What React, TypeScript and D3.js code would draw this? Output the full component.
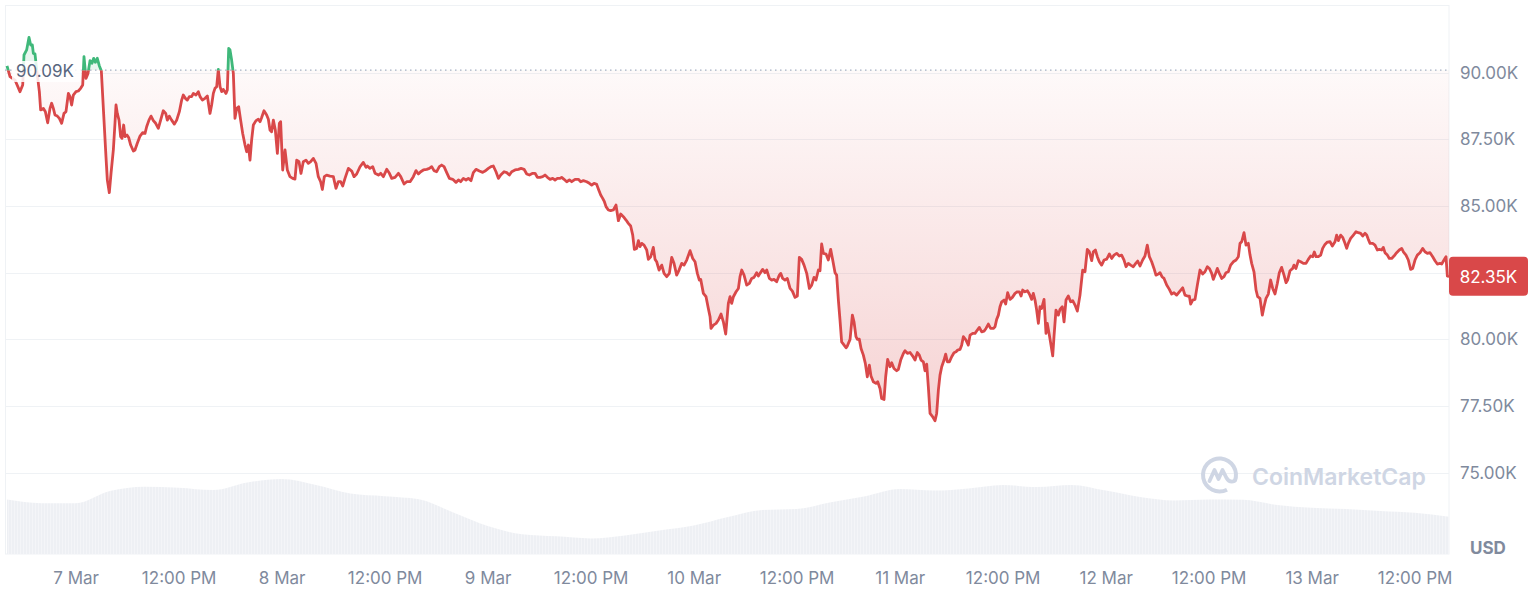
import React, { useEffect, useRef } from 'react';
import * as d3 from 'd3';

// 7 day BTC/USD chart, 6 Mar 16:00 UTC -> 13 Mar 16:00 UTC
const startTime = Date.UTC(2025, 2, 6, 16, 0);
const spanHours = 168;
const openPrice = 90090;
const lastPrice = 82350;
const priceTicks = [75000, 77500, 80000, 82500, 85000, 87500, 90000];

// 24h volume (billions USD), one value every 4 hours from the start
const volumeStepHours = 4;
const volumes = [
  38.9, 36.3, 36.3, 45.0, 48.1, 47.4, 45.7, 51.1, 53.6, 49.3, 43.2, 41.3, 39.1, 29.6,
  20.0, 14.1, 12.6, 11.1, 13.2, 16.7, 20.3, 26.4, 31.4, 32.1, 36.9, 41.3, 46.4, 45.3,
  46.8, 49.3, 47.8, 49.3, 45.3, 40.7, 38.2, 38.9, 38.7, 35.0, 33.0, 32.1, 30.7, 29.4, 26.6,
];

// [hours since start, price]
const pricePoints: [number, number][] = [
  [0, 90250], [0.35, 89850], [0.93, 89720], [1.51, 89285], [1.83, 89535], [1.98, 90660], [2.29, 90850],
  [2.56, 91320], [2.76, 91035], [2.95, 91035], [3.07, 90720], [3.26, 90700], [3.46, 90100], [3.77, 89285],
  [3.92, 88600], [4.23, 88660], [4.47, 88535], [4.74, 88120], [5.01, 88660], [5.2, 88850], [5.4, 88660],
  [5.59, 88410], [5.86, 88370], [6.1, 88285], [6.37, 88100], [6.64, 88470], [6.87, 88535], [7.15, 89220],
  [7.34, 89100], [7.53, 88785], [7.73, 89160], [8.04, 89285], [8.31, 89310], [8.58, 89410], [8.82, 89535],
  [8.97, 90600], [9.2, 89785], [9.44, 89970], [9.67, 90450], [9.9, 90350], [10.1, 90535], [10.29, 90385],
  [10.52, 90535], [10.76, 90250], [10.99, 90070], [11.3, 88220], [11.53, 86850], [11.69, 85970], [11.92, 85500],
  [12.12, 86220], [12.39, 87100], [12.58, 88100], [12.7, 88785], [12.85, 88470], [13.05, 88220], [13.24, 87600],
  [13.4, 87535], [13.59, 88035], [13.75, 87600], [13.98, 87660], [14.17, 87570], [14.41, 87285], [14.72, 87060],
  [14.91, 87100], [15.18, 87350], [15.5, 87620], [15.81, 87750], [16.08, 87720], [16.27, 87970], [16.54, 88220],
  [16.78, 88370], [17.05, 88200], [17.32, 88100], [17.63, 87910], [17.9, 88220], [18.21, 88570], [18.49, 88470],
  [18.68, 88220], [18.91, 88370], [19.18, 88220], [19.5, 88070], [19.77, 88220], [20.08, 88535], [20.35, 88970],
  [20.54, 89160], [20.78, 89035], [21.01, 88970], [21.24, 89100], [21.51, 89100], [21.71, 89220], [22.02, 89160],
  [22.29, 89285], [22.49, 89100], [22.76, 88970], [23.07, 89035], [23.34, 89120], [23.65, 88470], [23.84, 88785],
  [24.04, 89220], [24.23, 89410], [24.43, 89470], [24.62, 90120], [24.82, 89470], [25.01, 89285], [25.2, 89370],
  [25.51, 89220], [25.67, 89350], [25.83, 90910], [25.98, 90850], [26.17, 90470], [26.37, 89970], [26.56, 88285],
  [26.76, 88660], [26.99, 88720], [27.22, 88220], [27.46, 87720], [27.73, 87285], [27.92, 87035], [28.12, 87285],
  [28.31, 86720], [28.5, 87470], [28.7, 88035], [29.01, 88200], [29.28, 88250], [29.48, 88160], [29.67, 88320],
  [29.94, 88570], [30.25, 88410], [30.45, 88250], [30.64, 87850], [30.83, 87785], [31.03, 88220], [31.26, 87850],
  [31.5, 86970], [31.73, 88100], [31.88, 88160], [32.12, 86350], [32.39, 87100], [32.66, 86350], [32.97, 86100],
  [33.28, 86035], [33.55, 86010], [33.75, 86720], [34.02, 86660], [34.25, 86220], [34.52, 86660], [34.83, 86720],
  [35.11, 86600], [35.38, 86660], [35.69, 86785], [36, 86600], [36.27, 86100], [36.54, 85910], [36.74, 85620],
  [36.97, 86100], [37.24, 86160], [37.63, 86120], [38.02, 86100], [38.33, 85660], [38.6, 85910], [38.87, 85910],
  [39.11, 85750], [39.38, 86035], [39.77, 86410], [40.16, 86310], [40.43, 86100], [40.74, 86200], [41.13, 86470],
  [41.51, 86635], [41.83, 86450], [41.98, 86500], [42.29, 86410], [42.61, 86475], [42.88, 86225], [43.27, 86160],
  [43.54, 86225], [43.85, 86100], [44.24, 86375], [44.55, 86225], [44.82, 86035], [45.21, 86075], [45.6, 86225],
  [45.87, 86100], [46.26, 85825], [46.57, 85910], [46.96, 85910], [47.34, 86100], [47.65, 86325], [47.93, 86200],
  [48.2, 86285], [48.51, 86350], [48.9, 86375], [49.21, 86410], [49.48, 86475], [49.75, 86325], [50.06, 86285],
  [50.37, 86475], [50.64, 86535], [50.92, 86475], [51.23, 86250], [51.54, 86035], [51.93, 86000], [52.31, 85885],
  [52.59, 85975], [52.86, 85910], [53.17, 86035], [53.48, 85975], [53.75, 86035], [54.06, 85950], [54.33, 86250],
  [54.64, 86375], [55.03, 86310], [55.42, 86260], [55.69, 86310], [56.08, 86410], [56.39, 86475], [56.66, 86500],
  [56.97, 86285], [57.25, 86035], [57.52, 86160], [57.91, 86285], [58.22, 86250], [58.53, 86160], [58.8, 86285],
  [59.19, 86350], [59.58, 86375], [59.89, 86410], [60.24, 86375], [60.55, 86200], [60.86, 86160], [61.25, 86225],
  [61.52, 86225], [61.79, 86075], [62.1, 86075], [62.41, 86100], [62.68, 86160], [62.96, 86075], [63.27, 86000],
  [63.58, 86035], [63.85, 85975], [64.12, 86035], [64.43, 86035], [64.62, 86075], [64.9, 86000], [65.21, 85910],
  [65.52, 85975], [65.79, 85910], [66.18, 86000], [66.57, 86000], [66.84, 85910], [67.15, 85950], [67.54, 85910],
  [67.85, 85850], [68.12, 85785], [68.39, 85850], [68.7, 85810], [68.94, 85600], [69.17, 85410], [69.4, 85285],
  [69.6, 85160], [69.79, 84975], [70.06, 84850], [70.33, 84825], [70.64, 84850], [70.95, 85035], [71.23, 84450],
  [71.5, 84700], [71.81, 84600], [72.12, 84475], [72.39, 84350], [72.66, 84250], [72.9, 83910], [73.09, 83375],
  [73.36, 83410], [73.56, 83700], [73.75, 83475], [73.95, 83600], [74.22, 83535], [74.53, 83350], [74.72, 83000],
  [75, 83100], [75.3, 83450], [75.5, 83000], [75.69, 82910], [75.97, 82600], [76.28, 82785], [76.55, 82475],
  [76.86, 82350], [77.17, 82475], [77.44, 83075], [77.71, 82850], [78.02, 82410], [78.3, 82600], [78.61, 82850],
  [78.88, 82785], [79.19, 82975], [79.58, 83325], [79.89, 83035], [80.16, 82910], [80.43, 82475], [80.66, 82225],
  [80.82, 82250], [81.13, 81725], [81.44, 81600], [81.71, 81160], [81.91, 80850], [82.02, 80410], [82.3, 80535],
  [82.61, 80600], [82.88, 80725], [83.19, 80950], [83.46, 80660], [83.73, 80200], [83.85, 80625], [84.04, 81350],
  [84.24, 81600], [84.43, 81350], [84.63, 81600], [84.94, 81785], [85.21, 81910], [85.4, 82350], [85.6, 82600],
  [85.87, 82410], [86.18, 82035], [86.49, 82100], [86.76, 82285], [87.03, 82325], [87.34, 82500], [87.54, 82375],
  [87.73, 82475], [88.04, 82625], [88.31, 82500], [88.51, 82600], [88.82, 82285], [89.09, 82225], [89.36, 82250],
  [89.67, 82160], [89.98, 82410], [90.14, 82475], [90.37, 82285], [90.64, 82225], [90.91, 82285], [91.23, 81910],
  [91.5, 81810], [91.81, 81575], [92.08, 81625], [92.31, 83075], [92.58, 83000], [92.86, 82785], [93.17, 82475],
  [93.48, 81910], [93.75, 82035], [94.02, 82325], [94.25, 82225], [94.53, 82600], [94.72, 82575], [94.91, 83575],
  [95.11, 83225], [95.42, 83200], [95.69, 82975], [95.96, 83375], [96.2, 82975], [96.47, 82500], [96.66, 82410],
  [96.86, 81475], [97.05, 80725], [97.24, 79910], [97.44, 79825], [97.75, 79685], [97.9, 79750], [98.22, 80000],
  [98.49, 80910], [98.68, 80660], [98.91, 80100], [99.07, 80000], [99.3, 80010], [99.5, 79660], [99.77, 79410],
  [100, 79100], [100.23, 78600], [100.47, 79035], [100.66, 78625], [100.93, 78410], [101.24, 78350], [101.44, 78410],
  [101.71, 78160], [101.9, 77785], [102.18, 77750], [102.37, 78600], [102.6, 79250], [102.88, 78975], [103.07, 79125],
  [103.34, 78910], [103.65, 78825], [103.85, 78875], [104.12, 79225], [104.43, 79475], [104.62, 79575], [104.9, 79475],
  [105.21, 79510], [105.52, 79375], [105.79, 79225], [106.06, 79510], [106.29, 79410], [106.49, 79225], [106.76, 79160],
  [106.95, 78825], [107.15, 79075], [107.34, 78225], [107.54, 77225], [107.85, 77100], [108.12, 76950], [108.31, 77225],
  [108.51, 78100], [108.7, 78660], [108.9, 78975], [109.17, 79225], [109.36, 79450], [109.55, 79160], [109.79, 79160],
  [110.06, 79350], [110.33, 79500], [110.57, 79535], [110.76, 79600], [111.03, 79625], [111.22, 79785], [111.42, 80100],
  [111.73, 79975], [112, 79785], [112.2, 80160], [112.51, 80225], [112.78, 80225], [113.05, 80350], [113.28, 80450],
  [113.56, 80285], [113.83, 80310], [114.06, 80410], [114.33, 80575], [114.6, 80410], [114.91, 80410], [115.11, 80475],
  [115.3, 80750], [115.5, 80910], [115.69, 81225], [115.89, 81410], [116.16, 81475], [116.35, 81325], [116.58, 81750],
  [116.86, 81500], [117.13, 81575], [117.44, 81725], [117.71, 81785], [117.94, 81785], [118.14, 81625], [118.33, 81850],
  [118.6, 81785], [118.88, 81825], [119.11, 81700], [119.38, 81500], [119.57, 81725], [119.77, 81475], [119.96, 81100],
  [120.16, 80600], [120.35, 81225], [120.54, 81160], [120.82, 81500], [121.05, 80225], [121.2, 80600], [121.44, 80160],
  [121.63, 79785], [121.83, 79385], [121.98, 80100], [122.21, 81100], [122.49, 80910], [122.68, 81125], [122.95, 81225],
  [123.15, 80660], [123.38, 81475], [123.65, 81625], [123.92, 81410], [124.16, 81450], [124.43, 81285], [124.7, 81060],
  [125.01, 81660], [125.32, 82600], [125.59, 82535], [125.86, 83375], [126.1, 83285], [126.37, 82950], [126.56, 83285],
  [126.8, 83350], [127.03, 83100], [127.26, 82910], [127.53, 82785], [127.81, 82975], [128.12, 83010], [128.43, 83200],
  [128.7, 83035], [128.97, 83160], [129.28, 83225], [129.59, 83125], [129.86, 83160], [130.14, 82975], [130.37, 82725],
  [130.64, 82850], [130.91, 82785], [131.22, 82725], [131.5, 82850], [131.73, 82935], [132, 82750], [132.31, 82975],
  [132.58, 83125], [132.85, 83535], [133.09, 83100], [133.36, 82910], [133.63, 82660], [133.86, 82410], [134.14, 82450],
  [134.33, 82500], [134.56, 82350], [134.8, 82285], [135.11, 82035], [135.42, 81875], [135.69, 81700], [135.96, 81750],
  [136.27, 81660], [136.58, 81785], [136.97, 81935], [137.24, 81660], [137.52, 81625], [137.75, 81625], [137.9, 81325],
  [138.14, 81475], [138.41, 81500], [138.68, 82035], [138.99, 82600], [139.3, 82450], [139.57, 82535], [139.85, 82725],
  [140.08, 82660], [140.35, 82475], [140.54, 82250], [140.74, 82410], [141.01, 82660], [141.24, 82475], [141.52, 82285],
  [141.79, 82350], [142.02, 82500], [142.29, 82535], [142.56, 82785], [142.87, 82910], [143.19, 82975], [143.46, 83100],
  [143.65, 83600], [143.85, 83660], [144.12, 84000], [144.35, 83535], [144.62, 83600], [144.82, 83160], [145.01, 82850],
  [145.28, 82535], [145.52, 81850], [145.71, 81600], [145.98, 81535], [146.25, 80910], [146.45, 81225], [146.68, 81535],
  [146.95, 81700], [147.22, 82225], [147.46, 81910], [147.73, 81700], [148, 82100], [148.23, 82500], [148.5, 82700],
  [148.78, 82410], [149.01, 82125], [149.2, 82225], [149.48, 82575], [149.79, 82660], [149.94, 82785], [150.17, 82660],
  [150.45, 82950], [150.72, 82910], [151.03, 82850], [151.34, 82850], [151.61, 83000], [151.88, 83125], [152.12, 83100],
  [152.31, 83275], [152.51, 83100], [152.78, 83100], [153.05, 83160], [153.28, 83410], [153.55, 83560], [153.83, 83650],
  [154.14, 83660], [154.41, 83500], [154.72, 83660], [154.91, 83910], [155.11, 83700], [155.38, 83910], [155.61, 83825],
  [155.88, 83600], [156.08, 83410], [156.27, 83600], [156.54, 83785], [156.86, 83910], [157.17, 84035], [157.44, 84000],
  [157.71, 83975], [157.94, 83875], [158.21, 83975], [158.41, 83910], [158.6, 83750], [158.8, 83600], [159.11, 83600],
  [159.38, 83535], [159.65, 83350], [159.88, 83375], [160.16, 83350], [160.35, 83450], [160.54, 83250], [160.82, 83160],
  [161.05, 83035], [161.32, 83035], [161.59, 83125], [161.9, 83250], [162.21, 83350], [162.49, 83410], [162.68, 83285],
  [162.99, 83160], [163.26, 82975], [163.53, 82625], [163.77, 82660], [164.04, 82975], [164.31, 83160], [164.62, 83250],
  [164.93, 83410], [165.2, 83285], [165.48, 83225], [165.79, 83250], [166.1, 83100], [166.37, 82950], [166.64, 82825],
  [166.95, 82850], [167.15, 82825], [167.42, 82975], [167.65, 83100], [167.81, 82375], [168, 82350],
];

const W = 1536;
const H = 606;
const RED = '#d94849';
const GREEN = '#3fb87a';
const FONT = 'Inter, "Noto Sans", sans-serif';

const App: React.FC = () => {
  const svgRef = useRef<SVGSVGElement | null>(null);

  useEffect(() => {
    if (!svgRef.current) return;
    const svg = d3.select(svgRef.current);
    svg.selectAll('*').remove();

    const toDate = (h: number) => new Date(startTime + h * 3600e3);
    const x = d3.scaleUtc().domain([toDate(0), toDate(spanHours)]).range([7, 1449]);
    const y = d3.scaleLinear().domain([75000, 90000]).range([472.8, 72.6]);
    const yVol = d3.scaleLinear().domain([0, 60]).range([554, 470]);
    const yBase = y(openPrice);
    const yLast = y(lastPrice);

    const defs = svg.append('defs');
    defs.append('clipPath').attr('id', 'clipAbove')
      .append('rect').attr('x', 0).attr('y', 0).attr('width', W).attr('height', yBase);
    defs.append('clipPath').attr('id', 'clipBelow')
      .append('rect').attr('x', 0).attr('y', yBase).attr('width', W).attr('height', H - yBase);

    const minPrice = d3.min(pricePoints, d => d[1]) || 75000;
    const redGrad = defs.append('linearGradient').attr('id', 'redFill')
      .attr('gradientUnits', 'userSpaceOnUse')
      .attr('x1', 0).attr('x2', 0).attr('y1', yBase).attr('y2', y(minPrice));
    redGrad.append('stop').attr('offset', 0).attr('stop-color', RED).attr('stop-opacity', 0.03);
    redGrad.append('stop').attr('offset', 1).attr('stop-color', RED).attr('stop-opacity', 0.24);

    // thin bar texture for the volume band
    const pat = defs.append('pattern').attr('id', 'volBars')
      .attr('patternUnits', 'userSpaceOnUse').attr('width', 3).attr('height', 10);
    pat.append('rect').attr('width', 3).attr('height', 10).attr('fill', '#eef0f4');
    pat.append('rect').attr('x', 2).attr('width', 1).attr('height', 10).attr('fill', '#f4f5f8');

    // frame
    svg.append('rect')
      .attr('x', 5.5).attr('y', 5.5).attr('width', 1443.5).attr('height', 548.5)
      .attr('fill', 'none').attr('stroke', '#eff2f5');

    // grid
    svg.append('g').selectAll('line').data(priceTicks).join('line')
      .attr('x1', 5).attr('x2', 1449)
      .attr('y1', d => Math.round(y(d)) + 0.5).attr('y2', d => Math.round(y(d)) + 0.5)
      .attr('stroke', '#eff2f5');

    // volume
    const volArea = d3.area<number>()
      .x((d, i) => x(toDate(i * volumeStepHours)))
      .y0(554)
      .y1(d => yVol(d))
      .curve(d3.curveMonotoneX);
    svg.append('path').datum(volumes).attr('d', volArea).attr('fill', 'url(#volBars)');

    // price fill between line and open price
    const area = d3.area<[number, number]>()
      .x(d => x(toDate(d[0])))
      .y0(yBase)
      .y1(d => y(d[1]));
    svg.append('path').datum(pricePoints).attr('d', area)
      .attr('fill', 'url(#redFill)').attr('clip-path', 'url(#clipBelow)');
    svg.append('path').datum(pricePoints).attr('d', area)
      .attr('fill', GREEN).attr('fill-opacity', 0.12).attr('clip-path', 'url(#clipAbove)');

    // dotted open price line
    svg.append('line')
      .attr('x1', 5).attr('x2', 1449).attr('y1', yBase).attr('y2', yBase)
      .attr('stroke', '#a6b0c3').attr('stroke-width', 1.2).attr('stroke-dasharray', '1.5 3.5');

    const line = d3.line<[number, number]>()
      .x(d => x(toDate(d[0])))
      .y(d => y(d[1]));
    svg.append('path').datum(pricePoints).attr('d', line)
      .attr('fill', 'none').attr('stroke', RED).attr('stroke-width', 2.8)
      .attr('stroke-linejoin', 'round').attr('clip-path', 'url(#clipBelow)');
    svg.append('path').datum(pricePoints).attr('d', line)
      .attr('fill', 'none').attr('stroke', GREEN).attr('stroke-width', 2.8)
      .attr('stroke-linejoin', 'round').attr('clip-path', 'url(#clipAbove)');

    // open price label
    svg.append('rect')
      .attr('x', 12).attr('y', 61).attr('width', 69).attr('height', 21).attr('rx', 3)
      .attr('fill', '#fff').attr('fill-opacity', 0.85);
    svg.append('text')
      .attr('x', 16).attr('y', yBase + 1).attr('dy', '0.35em')
      .style('font', `17px ${FONT}`).attr('fill', '#58667e')
      .text(`${(openPrice / 1000).toFixed(2)}K`);

    // axes (the label under the last price badge is hidden, as in the source)
    const yAxis = svg.append('g')
      .attr('transform', 'translate(1449,0)')
      .call(d3.axisRight(y)
        .tickValues(priceTicks.filter(t => Math.abs(y(t) - yLast) > 20))
        .tickSize(0).tickPadding(11)
        .tickFormat(d => `${(Number(d) / 1000).toFixed(2)}K`));
    yAxis.select('.domain').remove();
    yAxis.selectAll('text').style('font', `17px ${FONT}`).attr('fill', '#808a9d');

    const xAxis = svg.append('g')
      .attr('transform', 'translate(0,554)')
      .call(d3.axisBottom(x).ticks(d3.utcHour.every(12)).tickSize(0).tickPadding(18)
        .tickFormat(d => {
          const dt = d as Date;
          return dt.getUTCHours() === 0 ? d3.utcFormat('%-d %b')(dt) : d3.utcFormat('%-I:%M %p')(dt);
        }));
    xAxis.select('.domain').remove();
    xAxis.selectAll('text').style('font', `17px ${FONT}`).attr('fill', '#808a9d');

    svg.append('text')
      .attr('x', 1470).attr('y', 548).attr('dy', '0.35em')
      .style('font', `700 17px ${FONT}`).attr('fill', '#808a9d')
      .text('USD');

    // last price badge
    svg.append('rect')
      .attr('x', 1449).attr('y', yLast - 20).attr('width', 79).attr('height', 39).attr('rx', 4)
      .attr('fill', RED);
    svg.append('text')
      .attr('x', 1488.5).attr('y', yLast).attr('dy', '0.35em').attr('text-anchor', 'middle')
      .style('font', `17px ${FONT}`).attr('fill', '#fff')
      .text(`${(lastPrice / 1000).toFixed(2)}K`);

    // watermark
    const wm = svg.append('g').attr('fill', 'none').attr('stroke', '#cfd6e4');
    const logo = wm.append('g').attr('transform', 'translate(1219.5,475)');
    logo.append('path')
      .attr('d', d3.arc()({ innerRadius: 14.5, outerRadius: 18.5, startAngle: Math.PI * 0.85, endAngle: Math.PI * 2.62 }) || '')
      .attr('fill', '#cfd6e4').attr('stroke', 'none');
    logo.append('path')
      .attr('d', 'M-10,6 L-5,-5 L-1,4 L3,-5 L7,3 Q10,8 15,6')
      .attr('stroke-width', 3.8).attr('stroke-linejoin', 'round').attr('stroke-linecap', 'round');
    svg.append('text')
      .attr('x', 1252).attr('y', 485)
      .style('font', `600 23px ${FONT}`).attr('fill', '#cfd6e4')
      .text('CoinMarketCap');
  }, []);

  return (
    <svg
      ref={svgRef}
      width={W}
      height={H}
      style={{ position: 'absolute', left: 0, top: 0, background: '#fff' }}
    />
  );
};

export default App;
